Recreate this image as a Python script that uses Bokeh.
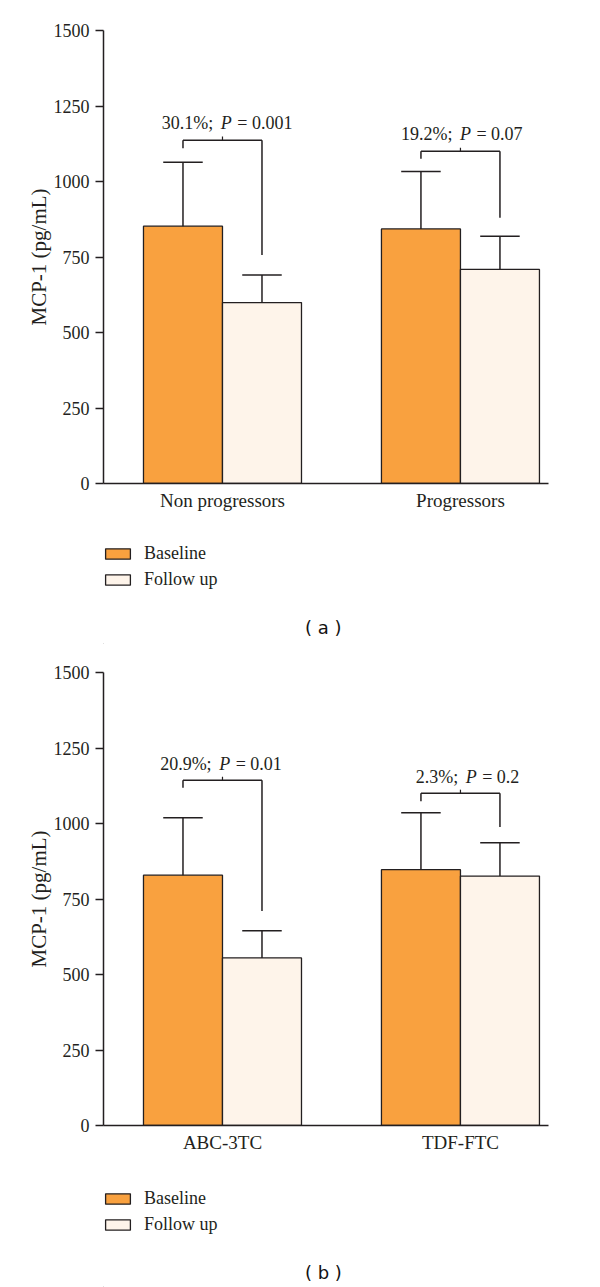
from bokeh.plotting import figure
from bokeh.layouts import column
from bokeh.models import Range1d, FixedTicker, Legend, LegendItem
from bokeh.core.properties import value
from bokeh.embed import file_html
from bokeh.resources import INLINE

# ---------------- data ----------------
series = ["Baseline", "Follow up"]
y_ticks = [0, 250, 500, 750, 1000, 1250, 1500]
y_label = "MCP-1 (pg/mL)"

groups_a = ["Non progressors", "Progressors"]
baseline_a = [852, 843]
baseline_sd_a = [212, 190]
followup_a = [599, 709]
followup_sd_a = [91, 110]
pct_a = ["30.1%;", "19.2%;"]
pval_a = ["= 0.001", "= 0.07"]
bracket_top_a = [1137, 1100]
bracket_left_a = [1110, 1075]
bracket_right_a = [757, 880]
caption_a = "( a )"

groups_b = ["ABC-3TC", "TDF-FTC"]
baseline_b = [829, 847]
baseline_sd_b = [190, 189]
followup_b = [555, 826]
followup_sd_b = [90, 110]
pct_b = ["20.9%;", "2.3%;"]
pval_b = ["= 0.01", "= 0.2"]
bracket_top_b = [1143, 1100]
bracket_left_b = [1118, 1074]
bracket_right_b = [710, 988]
caption_b = "( b )"

ORANGE = "#F9A13F"
CREAM = "#FEF4EA"
INK = "#231f20"
SERIF = "Liberation Serif"
X_RANGE = (0.5, 2.37)


def chart(groups, base, base_sd, fol, fol_sd, pct, pval, br_top, br_left, br_right,
          top_border, ann_dx, ann_y):
    pos = [i + 1 for i in range(len(groups))]
    half = 0.166
    xb = [c - half for c in pos]
    xf = [c + half for c in pos]

    p = figure(width=600, height=top_border + 453 + 37, title=None,
               x_range=Range1d(*X_RANGE), y_range=Range1d(0, 1500),
               output_backend="svg", toolbar_location=None,
               min_border_left=103, min_border_right=52,
               min_border_top=top_border, min_border_bottom=37)
    p.outline_line_color = None
    p.xgrid.visible = False
    p.ygrid.visible = False

    ax = p.yaxis[0]
    ax.ticker = FixedTicker(ticks=y_ticks)
    ax.minor_tick_line_color = None
    ax.major_tick_in = 0
    ax.major_tick_out = 8
    ax.major_label_standoff = 6
    ax.axis_line_color = INK
    ax.axis_line_width = 1.5
    ax.major_tick_line_color = INK
    ax.major_tick_line_width = 1.5
    ax.major_label_text_font = SERIF
    ax.major_label_text_font_size = "18px"
    ax.major_label_text_color = INK
    ax.axis_label = y_label
    ax.axis_label_text_font = SERIF
    ax.axis_label_text_font_size = "21px"
    ax.axis_label_text_font_style = "normal"
    ax.axis_label_text_color = INK
    ax.axis_label_standoff = 0

    xa = p.xaxis[0]
    xa.ticker = FixedTicker(ticks=pos)
    xa.major_label_overrides = {c: g for c, g in zip(pos, groups)}
    xa.minor_tick_line_color = None
    xa.major_tick_line_color = None
    xa.major_tick_in = 0
    xa.major_tick_out = 0
    xa.major_label_standoff = 6
    xa.axis_line_color = INK
    xa.axis_line_width = 1.5
    xa.major_label_text_font = SERIF
    xa.major_label_text_font_size = "19px"
    xa.major_label_text_color = INK

    p.vbar(x=xb, top=base, width=2 * half, bottom=0, fill_color=ORANGE,
           line_color=INK, line_width=1.3)
    p.vbar(x=xf, top=fol, width=2 * half, bottom=0, fill_color=CREAM,
           line_color=INK, line_width=1.3)

    # error bars (upper only)
    for xs, v, sd in ((xb, base, base_sd), (xf, fol, fol_sd)):
        up = [a + b for a, b in zip(v, sd)]
        p.segment(x0=xs, y0=v, x1=xs, y1=up, line_color=INK, line_width=1.5)
        p.segment(x0=[x - half / 2 for x in xs], y0=up, x1=[x + half / 2 for x in xs],
                  y1=up, line_color=INK, line_width=1.5)

    # significance brackets
    p.segment(x0=xb, y0=br_left, x1=xb, y1=br_top, line_color=INK, line_width=1.5)
    p.segment(x0=xb, y0=br_top, x1=xf, y1=br_top, line_color=INK, line_width=1.5)
    p.segment(x0=xf, y0=br_top, x1=xf, y1=br_right, line_color=INK, line_width=1.5)
    p.segment(x0=pos, y0=br_top, x1=pos, y1=[t + 12 for t in br_top],
              line_color=INK, line_width=1.2)

    ax_x = [c + d for c, d in zip(pos, ann_dx)]
    common = dict(text_font=value(SERIF), text_font_size="18px", text_color=INK,
                  text_baseline="alphabetic")
    p.text(x=ax_x, y=ann_y, text=pct, text_align="right", x_offset=-13, **common)
    p.text(x=ax_x, y=ann_y, text=["P"] * len(pos), text_align="center",
           text_font_style="italic", **common)
    p.text(x=ax_x, y=ann_y, text=pval, text_align="left", x_offset=11, **common)
    return p


def footer(height, legend_vy, caption, caption_y):
    f = figure(width=600, height=height, title=None, x_range=Range1d(*X_RANGE),
               y_range=Range1d(0, height), output_backend="svg", toolbar_location=None,
               x_axis_location=None, y_axis_location=None,
               min_border_left=103, min_border_right=52, min_border_top=0,
               min_border_bottom=0)
    f.outline_line_color = None
    f.xgrid.visible = False
    f.ygrid.visible = False
    # legend swatch renderers (styled like the bars, placed far outside the view)
    kb = f.vbar(x=[-100], bottom=[-1000], top=[-999], width=0.1, fill_color=ORANGE,
                line_color=INK, line_width=1.3)
    kf = f.vbar(x=[-100], bottom=[-1000], top=[-999], width=0.1, fill_color=CREAM,
                line_color=INK, line_width=1.3)
    legend = Legend(items=[LegendItem(label=series[0], renderers=[kb]),
                           LegendItem(label=series[1], renderers=[kf])],
                    location=(-1, legend_vy), orientation="vertical",
                    glyph_width=31, glyph_height=13, label_standoff=11,
                    label_text_font=SERIF, label_text_font_size="18px",
                    label_text_color=INK, label_height=20, spacing=5,
                    padding=0, margin=0, border_line_color=None,
                    background_fill_alpha=0)
    f.add_layout(legend, "center")
    f.text(x=[1.424], y=[caption_y], text=[caption], text_align="center",
           text_baseline="middle", text_font=value("DejaVu Sans"),
           text_font_size="18px", text_color="#111111")
    return f


pa = chart(groups_a, baseline_a, baseline_sd_a, followup_a, followup_sd_a, pct_a, pval_a,
           bracket_top_a, bracket_left_a, bracket_right_a,
           top_border=30, ann_dx=[0.016, 0.021], ann_y=[1195, 1156])
fa = footer(644 - (30 + 453 + 37), legend_vy=54, caption=caption_a, caption_y=17.3)
pb = chart(groups_b, baseline_b, baseline_sd_b, followup_b, followup_sd_b, pct_b, pval_b,
           bracket_top_b, bracket_left_b, bracket_right_b,
           top_border=28, ann_dx=[0.009, 0.045], ann_y=[1196, 1154])
fb = footer(643 - (28 + 453 + 37), legend_vy=52, caption=caption_b, caption_y=15.5)

layout = column(pa, fa, pb, fb)
open("out.html", "w").write(file_html(layout, INLINE))
